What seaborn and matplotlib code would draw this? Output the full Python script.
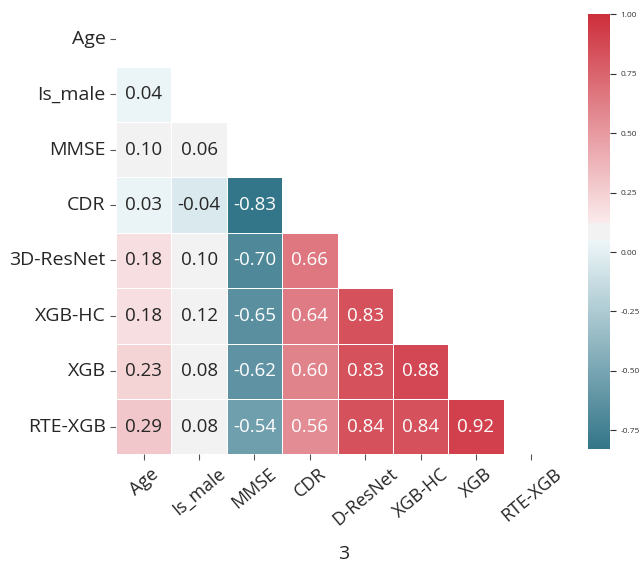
import numpy as np
import pandas as pd
import matplotlib
matplotlib.use("Agg")
import matplotlib.pyplot as plt
import seaborn as sns
from seaborn.external import husl
from seaborn.utils import set_hls_values

labels = ["Age", "Is_male", "MMSE", "CDR", "3D-ResNet", "XGB-HC", "XGB", "RTE-XGB"]
xtick_labels = ["Age", "Is_male", "MMSE", "CDR", "D-ResNet", "XGB-HC", "XGB", "RTE-XGB"]

row_is_male = [0.04]
row_mmse = [0.10, 0.06]
row_cdr = [0.03, -0.04, -0.83]
row_resnet = [0.18, 0.10, -0.70, 0.66]
row_xgbhc = [0.18, 0.12, -0.65, 0.64, 0.83]
row_xgb = [0.23, 0.08, -0.62, 0.60, 0.83, 0.88]
row_rte = [0.29, 0.08, -0.54, 0.56, 0.84, 0.84, 0.92]
lower_rows = [row_is_male, row_mmse, row_cdr, row_resnet, row_xgbhc, row_xgb, row_rte]

n = len(labels)
corr = np.eye(n)
for i, row in enumerate(lower_rows, start=1):
    for j, v in enumerate(row):
        corr[i, j] = v
        corr[j, i] = v
df = pd.DataFrame(corr, index=labels, columns=labels)
mask = np.triu(np.ones_like(corr, dtype=bool))


def old_diverging(h_neg, h_pos, s=75, l=50, sep=10):
    # classic (RGB-blend) seaborn diverging palette
    def light_pal(h, reverse=False):
        c = husl.husl_to_rgb(h, s, l)
        light = set_hls_values(c, l=.95)
        cols = [c, light] if reverse else [light, c]
        return list(sns.blend_palette(cols, 128 - sep // 2))
    neg = light_pal(h_neg, reverse=True)
    pos = light_pal(h_pos)
    mid = [(.95, .95, .95)] * sep
    return sns.blend_palette(neg + mid + pos, 256, as_cmap=True)


sns.set_theme(style="white")
plt.rcParams['font.family'] = ['Open Sans', 'DejaVu Sans']
plt.rcParams['axes.unicode_minus'] = False

fig = plt.figure(figsize=(6.4, 5.64), dpi=100)
W, H = 640, 564
ax = fig.add_axes([116 / W, (H - 454.3) / H, 443 / W, 443 / H])
cax = fig.add_axes([587.7 / W, (H - 449.3) / H, 22.3 / W, 435 / H])

cmap = old_diverging(220, 10, s=80, l=46)
sns.heatmap(df, mask=mask, cmap=cmap, vmin=-0.83, vmax=1.0, annot=True, fmt=".2f",
            annot_kws={"fontsize": 13.5}, linewidths=0.5, linecolor="white",
            ax=ax, cbar_ax=cax)

ax.set_xticklabels(xtick_labels, rotation=40, ha="center", fontsize=13, color="#262626")
ax.set_yticklabels(labels, rotation=0, fontsize=14, color="#262626")
ax.tick_params(axis="both", which="major", length=4, width=0.8, color="#555555",
               bottom=True, left=True)
ax.set_xlabel("3", fontsize=14, color="#262626")
ax.xaxis.set_label_coords((343.5 - 116) / 443, (454.3 - 545) / 443)
ax.set_ylabel("")

cax.tick_params(labelsize=6, length=4, width=0.8, color="#333333", right=True)
cax.set_yticks([1.0, 0.75, 0.5, 0.25, 0.0, -0.25, -0.5, -0.75])
cax.set_yticklabels(["1.00", "0.75", "0.50", "0.25", "0.00", "-0.25", "-0.50", "-0.75"])
for t in cax.get_yticklabels():
    t.set_color("#333333")

fig.savefig("out.png", dpi=100)
